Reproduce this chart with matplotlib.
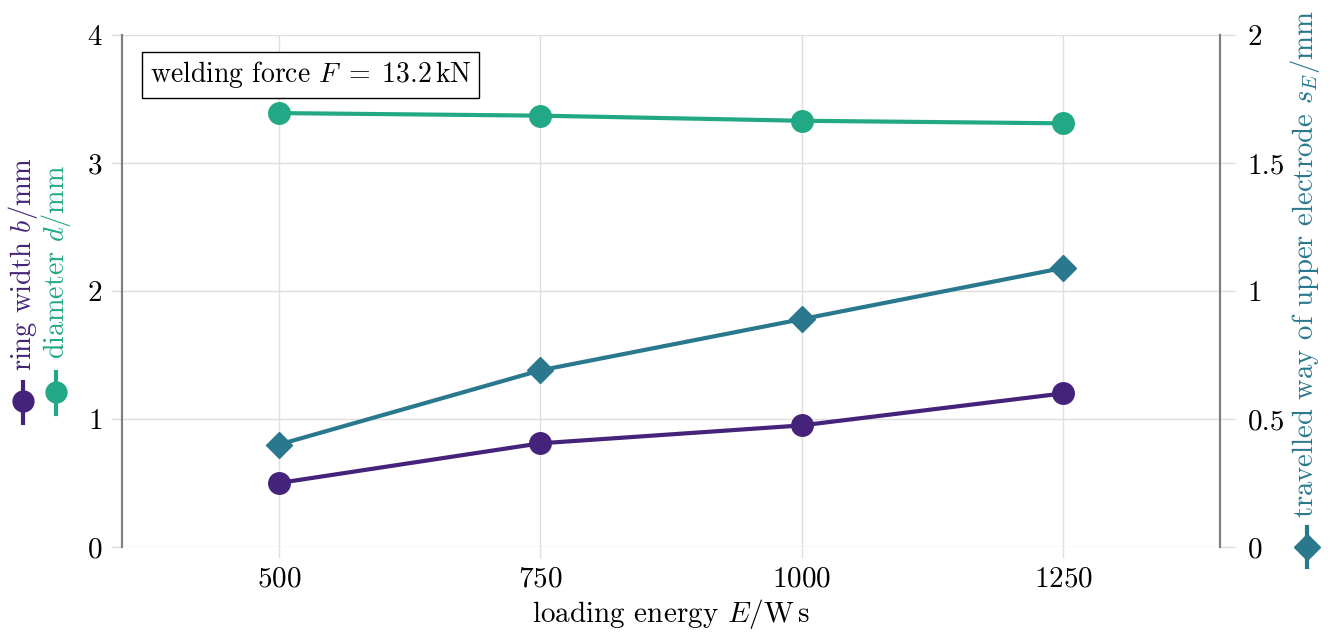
import matplotlib
matplotlib.use("Agg")
import matplotlib.pyplot as plt
from matplotlib.lines import Line2D

plt.rcParams['font.family'] = ['cmr10', 'DejaVu Serif']
plt.rcParams['mathtext.fontset'] = 'cm'
plt.rcParams['axes.formatter.use_mathtext'] = True
plt.rcParams['axes.unicode_minus'] = False

energy = [500, 750, 1000, 1250]
ring_width = [0.50, 0.81, 0.95, 1.20]
diameter = [3.39, 3.37, 3.33, 3.31]
travel = [0.40, 0.69, 0.89, 1.09]

x_ticks = [500, 750, 1000, 1250]
left_ticks = [0, 1, 2, 3, 4]
right_ticks = [0, 0.5, 1, 1.5, 2]
right_ticklabels = ['0', '0.5', '1', '1.5', '2']

c_ring = '#45237a'
c_diam = '#22a884'
c_trav = '#2a788e'
grid_c = '#dedede'
spine_c = '#7f7f7f'
FS = 21

fig = plt.figure(figsize=(13.33, 6.32), dpi=100)
ax = fig.add_axes([0.0915, 0.1345, 0.8237, 0.8101])
ax2 = ax.twinx()

for a in (ax, ax2):
    a.spines['top'].set_visible(False)
    a.spines['bottom'].set_visible(False)
    a.spines['left'].set_color(spine_c)
    a.spines['right'].set_color(spine_c)
    a.spines['left'].set_linewidth(1.5)
    a.spines['right'].set_linewidth(1.5)

ax.set_xlim(350, 1400)
ax.set_ylim(0, 4)
ax2.set_ylim(0, 2)
ax.set_xticks(x_ticks)
ax.set_yticks(left_ticks)
ax2.set_yticks(right_ticks)
ax2.set_yticklabels(right_ticklabels)
ax.grid(True, color=grid_c, linewidth=1.0)
ax.set_axisbelow(True)
ax.tick_params(axis='both', colors=grid_c, labelcolor='black', labelsize=FS, length=8, width=1.0, pad=6)
ax2.tick_params(axis='y', colors=grid_c, labelcolor='black', labelsize=FS, length=11, width=1.0, pad=9)

LW = 3.0
ax.plot(energy, ring_width, color=c_ring, lw=LW, marker='o', ms=15.5, zorder=3)
ax.plot(energy, diameter, color=c_diam, lw=LW, marker='o', ms=15.5, zorder=3)
ax2.plot(energy, travel, color=c_trav, lw=LW, marker='D', ms=13, zorder=3)

ax.set_xlabel(r'loading energy $E/\mathrm{W\,s}$', fontsize=FS, labelpad=3)

ax.text(0.0255, 0.922, r'welding force $F\;=\;13.2\,\mathrm{kN}$', transform=ax.transAxes,
        fontsize=20, ha='left', va='center',
        bbox=dict(boxstyle='square,pad=0.28', facecolor='white', edgecolor='black', linewidth=1.0))

# axis labels with legend glyphs
H = 632.0
W = 1333.0
renderer = fig.canvas.get_renderer()

def fitted_label(xc, top_px, bottom_px, s, color):
    t = fig.text(xc / W, 1 - top_px / H, s, rotation=90, ha='center', va='top',
                 fontsize=FS, color=color)
    h = t.get_window_extent(renderer).height
    t.set_fontsize(FS * (bottom_px - top_px) / h)
    return t

fitted_label(23, 157, 371, r'ring width $b/\mathrm{mm}$', c_ring)
fitted_label(56, 165, 359, r'diameter $d/\mathrm{mm}$', c_diam)
fitted_label(1305, 10, 518, r'travelled way of upper electrode $s_E/\mathrm{mm}$', c_trav)

def legend_glyph(xc, y0, y1, yc, color, marker, ms):
    fig.add_artist(Line2D([xc, xc], [y0, y1], transform=fig.transFigure, color=color, lw=LW))
    fig.add_artist(Line2D([xc], [yc], transform=fig.transFigure, color=color, marker=marker,
                          ms=ms, linestyle='none'))

legend_glyph(23 / W, 1 - 423 / H, 1 - 382 / H, 1 - 401 / H, c_ring, 'o', 15)
legend_glyph(56 / W, 1 - 414 / H, 1 - 372 / H, 1 - 392 / H, c_diam, 'o', 15)
legend_glyph(1307 / W, 1 - 567 / H, 1 - 527 / H, 1 - 547 / H, c_trav, 'D', 13)

fig.savefig('out.png', dpi=100)
